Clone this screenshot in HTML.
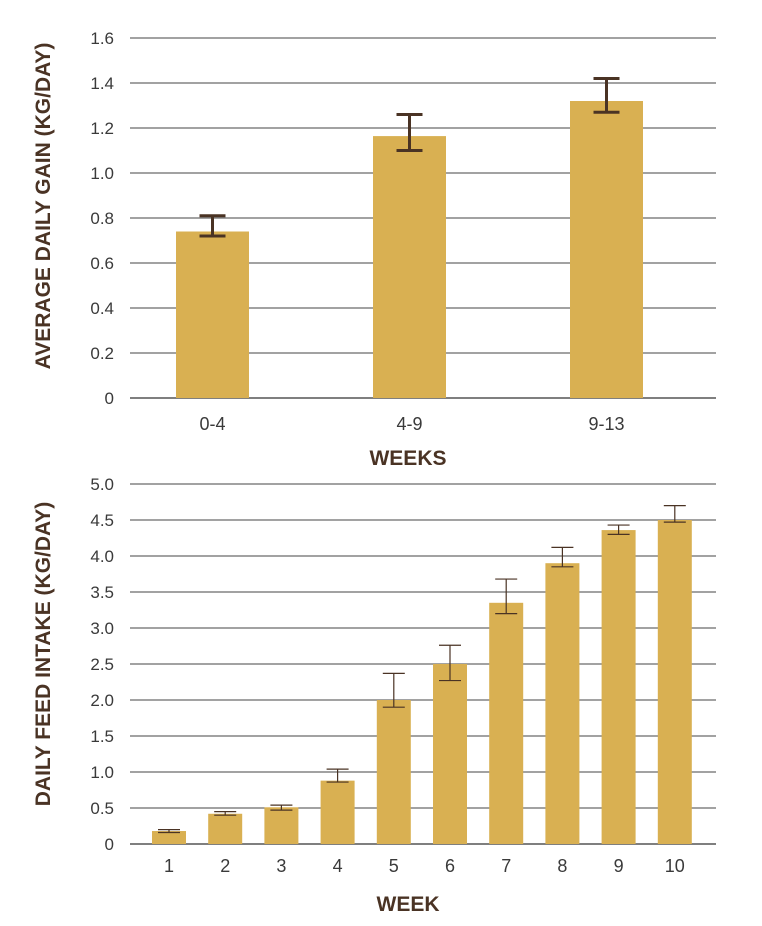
<!DOCTYPE html>
<html><head><meta charset="utf-8">
<style>
body{margin:0;background:#fff;}
svg text{font-family:"Liberation Sans",sans-serif;}
.tick{font-size:17px;fill:#3a3a3a;}
.ttl{font-family:"Liberation Sans Narrow","Liberation Sans",sans-serif;font-weight:bold;font-size:21px;fill:#4a3324;}
</style></head><body>
<svg id="c" width="762" height="921" viewBox="0 0 762 921" xmlns="http://www.w3.org/2000/svg">
<text class="ttl" transform="translate(50,206) rotate(-90)" text-anchor="middle">AVERAGE DAILY GAIN (KG/DAY)</text>
<text class="ttl" x="408" y="465" text-anchor="middle">WEEKS</text>
<text class="ttl" transform="translate(50,654) rotate(-90)" text-anchor="middle">DAILY FEED INTAKE (KG/DAY)</text>
<text class="ttl" x="408" y="911" text-anchor="middle">WEEK</text>
</svg>
<script>
const topCats=["0-4","4-9","9-13"];
const topVals=[0.74,1.164,1.32];
const topLo=[0.72,1.10,1.27];
const topHi=[0.81,1.26,1.42];
const topTicks=["0","0.2","0.4","0.6","0.8","1.0","1.2","1.4","1.6"];
const botCats=["1","2","3","4","5","6","7","8","9","10"];
const botVals=[0.18,0.42,0.51,0.88,2.0,2.5,3.35,3.9,4.36,4.5];
const botLo=[0.16,0.40,0.47,0.86,1.90,2.27,3.20,3.85,4.30,4.47];
const botHi=[0.20,0.45,0.54,1.04,2.37,2.76,3.68,4.12,4.43,4.70];
const botTicks=["0","0.5","1.0","1.5","2.0","2.5","3.0","3.5","4.0","4.5","5.0"];
const svg=document.getElementById('c');
const NS="http://www.w3.org/2000/svg";
function mk(t,a){const e=document.createElementNS(NS,t);for(const k in a)e.setAttribute(k,a[k]);svg.appendChild(e);return e;}
function chart(p,cats,vals,lo,hi,ticks,o){
  const y=v=>o.y0-(v/o.max)*(o.y0-o.y1);
  ticks.forEach((t,i)=>{const v=o.max*i/(ticks.length-1);
    const l=mk('line',{x1:130,x2:716,y1:y(v),y2:y(v),stroke:i==0?'#333':'#444','stroke-width':i==0?1.3:1});
    
    
    const tx=mk('text',{x:114,y:y(v)+6,'text-anchor':'end',class:'tick'});tx.textContent=t;
    
    
  });
  const x=i=>o.xs+i*o.step;
  cats.forEach((c,i)=>{
    const cx=x(i);
    const r=mk('rect',{x:cx-o.w/2,y:y(vals[i]),width:o.w,height:o.y0-y(vals[i]),fill:'#d9b052'});
    
    
    const g=mk('path',{d:`M${cx},${y(lo[i])}V${y(hi[i])}M${cx-o.cap},${y(lo[i])}H${cx+o.cap}M${cx-o.cap},${y(hi[i])}H${cx+o.cap}`,stroke:'#4a3324','stroke-width':o.sw,fill:'none'});
    
    
    const t=mk('text',{x:cx,y:o.y0+o.ly,'text-anchor':'middle',class:'tick'});t.textContent=c;
    t.style.fontSize=o.fs+'px';
    
    
  });
}
chart('top',topCats,topVals,topLo,topHi,topTicks,{y0:398,y1:38,max:1.6,xs:212.5,step:197,w:73,cap:13,sw:3,ly:32,fs:18});
chart('bottom',botCats,botVals,botLo,botHi,botTicks,{y0:844,y1:484,max:5.0,xs:169,step:56.2,w:34,cap:11,sw:1.2,ly:28,fs:18});
</script>
</body></html>
